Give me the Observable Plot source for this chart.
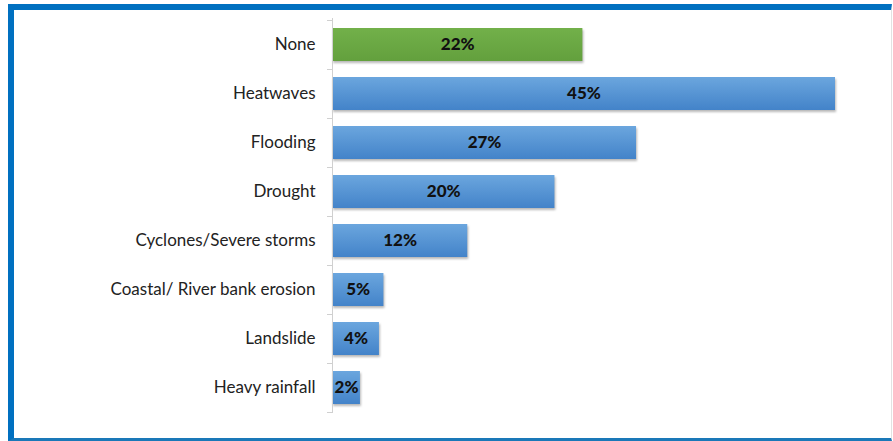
<!DOCTYPE html>
<html>
<head>
<meta charset="utf-8">
<script src="https://cdn.jsdelivr.net/npm/d3@7"></script>
<script src="https://cdn.jsdelivr.net/npm/@observablehq/plot@0.6"></script>
<style>
  html, body { margin: 0; padding: 0; background: #fff; }
  #wrap { position: relative; width: 893px; height: 441px; overflow: hidden; }
  #frame { position: absolute; left: 8px; top: 4px; width: 877px; height: 428px;
    border-top: 6px solid #0070C0; border-left: 6px solid #0070C0;
    border-bottom: 3px solid #1a78b8; border-right: 1px solid #e2e2e2; pointer-events: none; }
  #chart { position: absolute; left: 0; top: 0; }
  #chart rect.bar { filter: drop-shadow(1px 2px 1.2px rgba(0,0,0,0.28)); }
  #chart g.barlabel text { font-size: 17px; font-weight: 900; }
  #chart g.ylab text { font-size: 17px; }
</style>
</head>
<body>
<div id="wrap"><div id="chart"></div><div id="frame"></div></div>
<script>
const categories = ["None", "Heatwaves", "Flooding", "Drought", "Cyclones/Severe storms", "Coastal/ River bank erosion", "Landslide", "Heavy rainfall"];
const values = [22.4, 45, 27.2, 19.9, 12.1, 4.6, 4.2, 2.5];
const labels = ["22%", "45%", "27%", "20%", "12%", "5%", "4%", "2%"];
const highlight = ["None"];

const data = categories.map((c, i) => ({category: c, value: values[i], label: labels[i]}));

const plot = Plot.plot({
  width: 893,
  height: 441,
  marginLeft: 332,
  marginRight: 58,
  marginTop: 18,
  marginBottom: 28,
  style: {fontFamily: "Lato, 'Open Sans', sans-serif", background: "transparent"},
  x: {domain: [0, 45], axis: null},
  y: {domain: categories, paddingInner: 0.33, paddingOuter: 0.165, label: null, axis: null},
  marks: [
    Plot.axisY({tickSize: 0, tickPadding: 17, fontSize: 17, fill: "#222", label: null, className: "ylab"}),
    Plot.barX(data.filter(d => !highlight.includes(d.category)), {x: "value", y: "category", fill: "url(#gradBlue)", className: "bar"}),
    Plot.barX(data.filter(d => highlight.includes(d.category)), {x: "value", y: "category", fill: "url(#gradGreen)", className: "bar"}),
    Plot.ruleX([0], {stroke: "#d0d0d0", strokeWidth: 1}),
    Plot.text(data, {x: d => d.value / 2, y: "category", text: "label", fontWeight: "bold", fontSize: 17, fill: "#111", className: "barlabel"})
  ]
});

// gradients
const svg = d3.select(plot);
const defs = svg.insert("defs", ":first-child");
function grad(id, top, bottom) {
  const g = defs.append("linearGradient").attr("id", id).attr("x1", 0).attr("y1", 0).attr("x2", 0).attr("y2", 1);
  g.append("stop").attr("offset", "0%").attr("stop-color", top);
  g.append("stop").attr("offset", "100%").attr("stop-color", bottom);
}
grad("gradBlue", "#6ba6de", "#4383c9");
grad("gradGreen", "#72b04a", "#63a03d");
svg.selectAll("g.bar rect").classed("bar", true);

// category boundary ticks (Excel style), via the band scale
const ys = plot.scale("y");
const x0 = plot.scale("x").apply(0);
const step = ys.step;
const start = ys.apply(categories[0]) - (step - ys.bandwidth) / 2;
const tickG = svg.append("g").attr("stroke", "#d0d0d0");
for (let i = 0; i <= categories.length; i++) {
  const yy = Math.round(start + i * step) + 0.5;
  tickG.append("line").attr("x1", x0 - 5).attr("x2", x0).attr("y1", yy).attr("y2", yy);
}

document.getElementById("chart").appendChild(plot);
</script>
</body>
</html>
